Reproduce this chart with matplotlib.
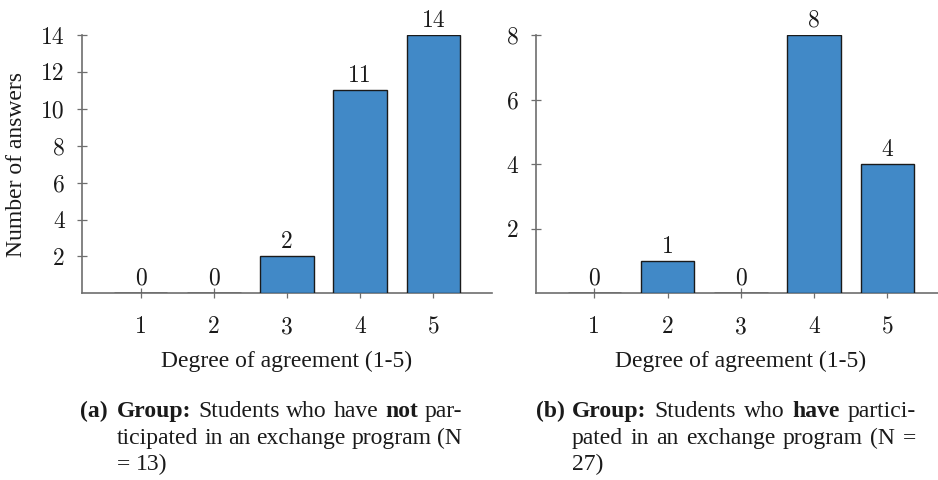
import matplotlib
matplotlib.use("Agg")
import matplotlib.pyplot as plt

# Survey answers per degree of agreement
categories = [1, 2, 3, 4, 5]
not_participated = [0, 0, 2, 11, 14]
participated = [0, 1, 0, 8, 4]
yticks_a = [2, 4, 6, 8, 10, 12, 14]
yticks_b = [2, 4, 6, 8]

xlabel = "Degree of agreement (1-5)"
ylabel = "Number of answers"

caption_a = [
    [("Group:", "bold"), ("Students", "normal"), ("who", "normal"), ("have", "normal"),
     ("not", "bold"), ("par-", "normal")],
    [("ticipated", "normal"), ("in", "normal"), ("an", "normal"), ("exchange", "normal"),
     ("program", "normal"), ("(N", "normal")],
    [("=", "normal"), ("13)", "normal")],
]
caption_b = [
    [("Group:", "bold"), ("Students", "normal"), ("who", "normal"), ("have", "bold"),
     ("partici-", "normal")],
    [("pated", "normal"), ("in", "normal"), ("an", "normal"), ("exchange", "normal"),
     ("program", "normal"), ("(N", "normal"), ("=", "normal")],
    [("27)", "normal")],
]

BAR_COLOR = "#4189c7"
AXIS_GRAY = "#6e6e6e"
TEXT = "#1a1a1a"
FS = 17
SERIF = "Liberation Serif"
NUMFONT = "cmr10"

W, H = 938, 480
fig = plt.figure(figsize=(W / 100, H / 100), dpi=100)


def px_axes(x0, x1, y_top, y_bot):
    return fig.add_axes([x0 / W, 1 - y_bot / H, (x1 - x0) / W, (y_bot - y_top) / H])


def draw_panel(ax, values, yticks, ymax, show_ylabel):
    bars = ax.bar(categories, values, width=0.73, color=BAR_COLOR,
                  edgecolor="#1a1a1a", linewidth=1.0, zorder=3)
    for rect, v in zip(bars, values):
        ax.annotate(f"{v}", (rect.get_x() + rect.get_width() / 2, v),
                    xytext=(0, 6), textcoords="offset points",
                    ha="center", va="baseline", fontsize=FS,
                    family=NUMFONT, color=TEXT)
    ax.set_xlim(0.2, 5.8)
    ax.set_ylim(0, ymax)
    ax.set_xticks(categories)
    ax.set_yticks(yticks)
    ax.set_xticklabels([str(c) for c in categories], family=NUMFONT, fontsize=FS, color=TEXT)
    ax.set_yticklabels([str(t) for t in yticks], family=NUMFONT, fontsize=FS, color=TEXT)
    for side in ("top", "right"):
        ax.spines[side].set_visible(False)
    for side in ("left", "bottom"):
        ax.spines[side].set_color(AXIS_GRAY)
        ax.spines[side].set_linewidth(1.2)
    ax.tick_params(axis="both", direction="inout", length=7, width=0.9, color=AXIS_GRAY)
    ax.tick_params(axis="y", pad=9)
    ax.tick_params(axis="x", pad=13)
    ax.set_xlabel(xlabel, fontsize=FS, family=SERIF, color=TEXT, labelpad=9)
    if show_ylabel:
        ax.set_ylabel(ylabel, fontsize=FS, family=SERIF, color=TEXT, labelpad=10)


ax_a = px_axes(82, 492, 35, 293.3)
ax_b = px_axes(535.7, 946, 35, 293.3)
draw_panel(ax_a, not_participated, yticks_a, 14, True)
draw_panel(ax_b, participated, yticks_b, 8, False)

renderer = fig.canvas.get_renderer()


def text_width(s, weight):
    t = fig.text(0, 0, s, fontsize=FS, family=SERIF, weight=weight)
    w = t.get_window_extent(renderer).width
    t.remove()
    return w


space_w = text_width("a a", "normal") - text_width("aa", "normal")


def draw_caption(tag, lines, x_tag, x_text, x_right, baselines):
    fig.text(x_tag / W, 1 - baselines[0] / H, tag, fontsize=FS, family=SERIF,
             weight="bold", va="baseline", color=TEXT)
    for i, (words, yb) in enumerate(zip(lines, baselines)):
        widths = [text_width(w, wt) for w, wt in words]
        gap = space_w
        if i < len(lines) - 1 and len(words) > 1:
            gap = (x_right - x_text - sum(widths)) / (len(words) - 1)
        x = x_text
        for (w, wt), wd in zip(words, widths):
            fig.text(x / W, 1 - yb / H, w, fontsize=FS, family=SERIF, weight=wt,
                     va="baseline", color=TEXT)
            x += wd + gap


baselines = [417, 444, 470]
draw_caption("(a)", caption_a, 80, 117, 462, baselines)
draw_caption("(b)", caption_b, 536, 572, 916, baselines)

fig.savefig("out.png", dpi=100, facecolor="white")
